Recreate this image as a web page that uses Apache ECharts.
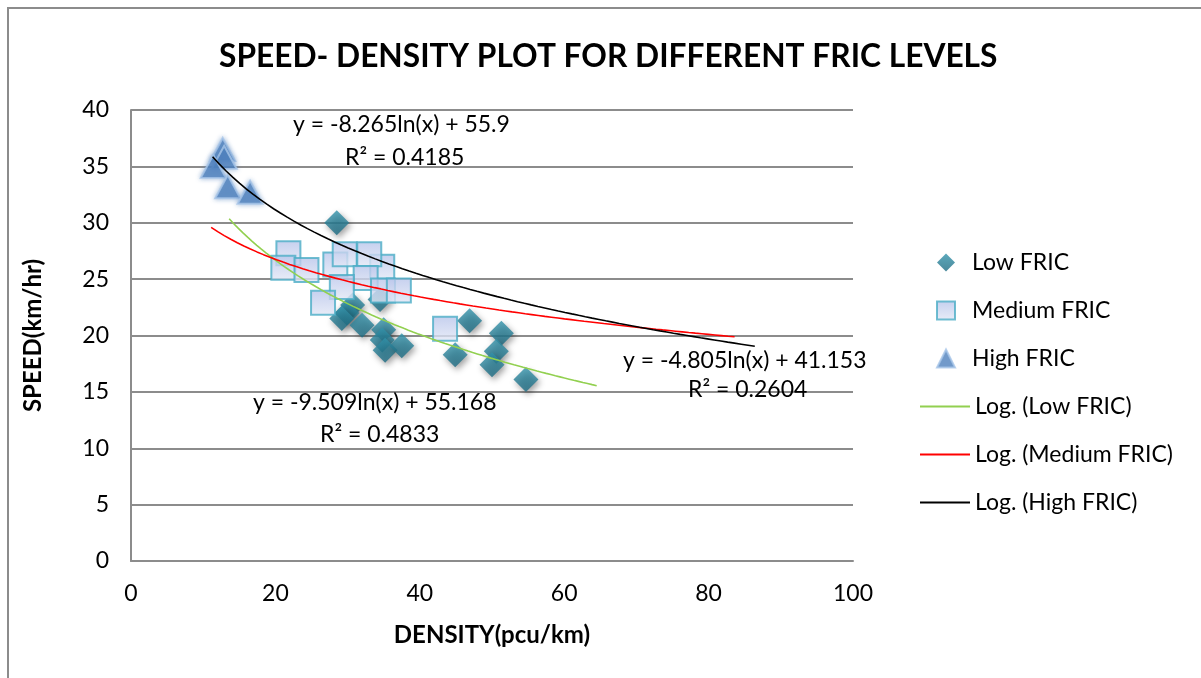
<!DOCTYPE html>
<html>
<head>
<meta charset="utf-8">
<title>Speed-Density Plot</title>
<script src="https://cdn.jsdelivr.net/npm/echarts@6/dist/echarts.min.js"></script>
<style>
  html, body { margin: 0; padding: 0; background: #fff; }
  #chart { width: 1201px; height: 678px; }
</style>
</head>
<body>
<div id="chart"></div>
<script>
// Density (pcu/km) / speed (km/hr) observations per FRIC level
const lowFric = [
  [28.5, 30.0], [30.7, 22.7], [34.5, 23.2], [29.9, 22.0], [29.2, 21.5],
  [32.0, 20.9], [35.0, 20.5], [34.8, 19.6], [35.2, 18.7], [37.5, 19.1],
  [46.9, 21.3], [51.3, 20.2], [44.9, 18.3], [50.6, 18.6], [50.0, 17.4],
  [54.7, 16.1]
];
const mediumFric = [
  [21.8, 27.3], [21.1, 26.0], [24.3, 25.8], [28.3, 26.3], [34.8, 26.1],
  [29.6, 27.2], [33.0, 27.2], [32.5, 25.1], [29.2, 24.3], [26.6, 22.9],
  [34.9, 24.0], [37.1, 24.0], [43.5, 20.6]
];
const highFric = [
  [12.7, 36.5], [12.9, 35.8], [11.4, 35.0], [13.4, 33.2], [16.5, 32.7]
];

// Logarithmic trend lines y = a*ln(x) + b, with the x span each one covers
const scatterNames = ['Low FRIC', 'Medium FRIC', 'High FRIC'];
const trendNames = ['Log. (Low FRIC)', 'Log. (Medium FRIC)', 'Log. (High FRIC)'];
const trendA = [-9.509, -4.805, -8.265];
const trendB = [55.168, 41.153, 55.9];
const trendR2 = ['0.4833', '0.2604', '0.4185'];
const trendXStart = [13.6, 11.1, 11.3];
const trendXEnd = [64.5, 83.6, 86.4];
const trendColors = ['#92d050', '#ff0000', '#000000'];

const xTicks = [0, 20, 40, 60, 80, 100];
const yTicks = [0, 5, 10, 15, 20, 25, 30, 35, 40];

function trendPoints(i) {
  const pts = [];
  const n = 80;
  for (let k = 0; k <= n; k++) {
    const x = trendXStart[i] + (trendXEnd[i] - trendXStart[i]) * k / n;
    pts.push([x, trendA[i] * Math.log(x) + trendB[i]]);
  }
  return pts;
}

function eqText(i) {
  return 'y = ' + trendA[i] + 'ln(x) + ' + trendB[i];
}

const FONT = 'Lato, "Open Sans", sans-serif';
const TXT = 23;

const chart = echarts.init(document.getElementById('chart'), null, { renderer: 'canvas' });

const lineSeries = trendNames.map((name, i) => ({
  name: name,
  type: 'line',
  data: trendPoints(i),
  showSymbol: false,
  symbol: 'none',
  lineStyle: { color: trendColors[i], width: 1.6 },
  itemStyle: { color: trendColors[i] },
  z: 5,
  silent: true
}));

// equation / R² annotations: [text, x, y]
const annotations = [
  [eqText(2), 293, 125], ['R² = ' + trendR2[2], 345, 158],
  [eqText(1), 623, 361], ['R² = ' + trendR2[1], 688, 390],
  [eqText(0), 253, 403], ['R² = ' + trendR2[0], 320, 435]
];

const option = {
  backgroundColor: '#ffffff',
  animation: false,
  title: {
    text: 'SPEED- DENSITY PLOT FOR DIFFERENT FRIC LEVELS',
    left: 214,
    top: 36,
    textStyle: { fontFamily: FONT, fontSize: 31.7, fontWeight: 'bold', color: '#000' }
  },
  grid: { left: 131, right: 348, top: 110, bottom: 117 },
  xAxis: {
    type: 'value',
    min: xTicks[0],
    max: xTicks[xTicks.length - 1],
    interval: 20,
    name: 'DENSITY(pcu/km)',
    nameLocation: 'middle',
    nameGap: 62,
    nameTextStyle: { fontFamily: FONT, fontSize: 24, fontWeight: 'bold', color: '#000' },
    axisLine: { show: true, lineStyle: { color: '#8c8c8c', width: 2 } },
    axisTick: { show: false },
    splitLine: { show: false },
    axisLabel: { fontFamily: FONT, fontSize: TXT, color: '#000', margin: 21 }
  },
  yAxis: {
    type: 'value',
    min: yTicks[0],
    max: yTicks[yTicks.length - 1],
    interval: 5,
    name: 'SPEED(km/hr)',
    nameLocation: 'middle',
    nameGap: 86,
    nameRotate: 90,
    nameTextStyle: { fontFamily: FONT, fontSize: 24, fontWeight: 'bold', color: '#000' },
    axisLine: { show: true, lineStyle: { color: '#8c8c8c', width: 2 } },
    axisTick: { show: false },
    splitLine: { show: true, lineStyle: { color: '#8c8c8c', width: 2 } },
    axisLabel: { fontFamily: FONT, fontSize: TXT, color: '#000', margin: 22 }
  },
  legend: [
    {
      orient: 'vertical',
      left: 931,
      top: 246,
      itemWidth: 18,
      itemHeight: 18,
      itemGap: 25,
      textStyle: { fontFamily: FONT, fontSize: TXT, color: '#000', padding: [0, 0, 0, 12] },
      data: scatterNames
    },
    {
      orient: 'vertical',
      left: 915,
      top: 390,
      icon: 'rect',
      itemWidth: 50,
      itemHeight: 2,
      itemGap: 25,
      textStyle: { fontFamily: FONT, fontSize: TXT, color: '#000' },
      data: trendNames
    }
  ],
  series: [
    {
      name: scatterNames[0],
      type: 'scatter',
      symbol: 'diamond',
      symbolSize: [25, 25],
      data: lowFric,
      itemStyle: {
        color: new echarts.graphic.LinearGradient(0, 0, 0, 1, [
          { offset: 0, color: '#3393ab' },
          { offset: 1, color: '#1d6b82' }
        ]),
        shadowBlur: 6,
        shadowColor: 'rgba(0,0,0,0.45)',
        shadowOffsetX: 2,
        shadowOffsetY: 3
      },
      z: 2
    },
    {
      name: scatterNames[1],
      type: 'scatter',
      symbol: 'rect',
      symbolSize: 24,
      data: mediumFric,
      itemStyle: {
        color: new echarts.graphic.LinearGradient(0, 0, 0, 1, [
          { offset: 0, color: '#b7c4ea' },
          { offset: 1, color: '#e3e8f6' }
        ]),
        borderColor: '#4bacc6',
        borderWidth: 2
      },
      z: 3
    },
    {
      name: scatterNames[2],
      type: 'scatter',
      symbol: 'triangle',
      symbolSize: [25, 23],
      data: highFric,
      itemStyle: {
        color: '#4f81bd',
        borderColor: '#a7c5e8',
        borderWidth: 2,
        shadowBlur: 5,
        shadowColor: 'rgba(79,129,189,0.6)'
      },
      z: 4
    }
  ].concat(lineSeries),
  graphic: [
    {
      type: 'rect',
      shape: { x: 8, y: 8, width: 1210, height: 700 },
      style: { fill: 'none', stroke: '#8c8c8c', lineWidth: 2 },
      silent: true,
      z: -10
    }
  ].concat(annotations.map(a => ({
    type: 'text',
    x: a[1],
    y: a[2],
    z: 10,
    silent: true,
    style: {
      text: a[0], fontFamily: FONT, fontSize: TXT, fill: '#000',
      align: 'left', verticalAlign: 'middle'
    }
  })))
};

chart.setOption(option);
</script>
</body>
</html>
